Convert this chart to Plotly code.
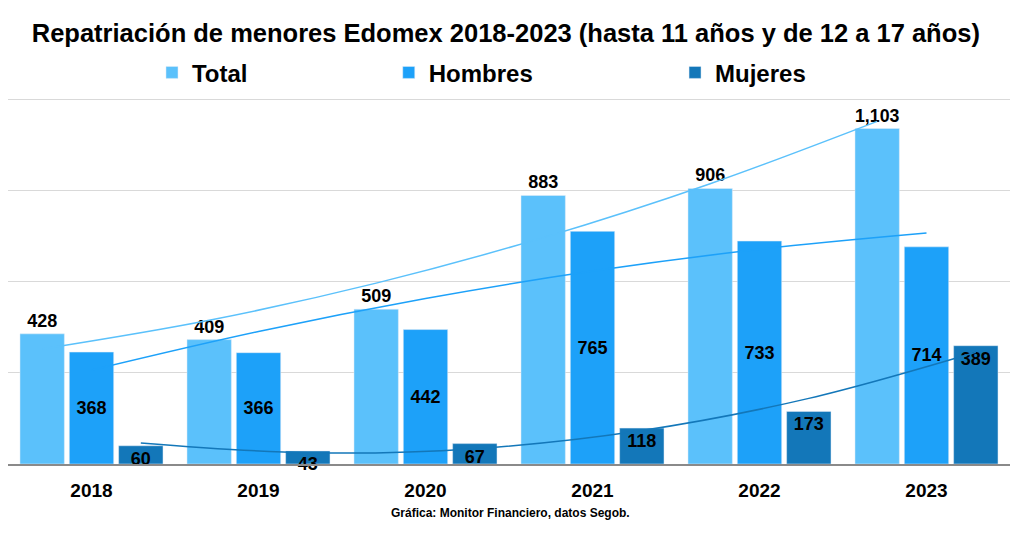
import numpy as np
import plotly.graph_objects as go

years = ["2018", "2019", "2020", "2021", "2022", "2023"]
total = [428, 409, 509, 883, 906, 1103]
hombres = [368, 366, 442, 765, 733, 714]
mujeres = [60, 43, 67, 118, 173, 389]

c_total = "#5BC1FB"
c_hom = "#1DA1F9"
c_muj = "#1377B9"

xs = np.arange(len(years))
bargap = 0.114
slot = (1 - bargap) / 3
FONT = "Liberation Sans, Arial"

fig = go.Figure()
lbl_font = dict(family=FONT, size=18, color="black", weight="bold")

fig.add_trace(go.Bar(x=xs, y=total, name="Total", marker_color=c_total,
                     texttemplate="%{y:,}", textposition="outside",
                     textfont=lbl_font, cliponaxis=False, legend="legend"))
fig.add_trace(go.Bar(x=xs, y=hombres, name="Hombres", marker_color=c_hom,
                     texttemplate="%{y:,}", textposition="inside",
                     insidetextanchor="middle", textfont=lbl_font,
                     constraintext="none", legend="legend2"))
fig.add_trace(go.Bar(x=xs, y=mujeres, name="Mujeres", marker_color=c_muj,
                     texttemplate="%{y:,}", textposition="inside",
                     insidetextanchor="end", textfont=lbl_font,
                     constraintext="none", cliponaxis=False, legend="legend3"))

# polynomial (degree 2) trendlines, as in the original chart
for vals, col, k in [(total, c_total, -1), (hombres, c_hom, 0), (mujeres, c_muj, 1)]:
    coef = np.polyfit(xs, vals, 2)
    fig.add_trace(go.Scatter(x=xs + k * slot, y=np.polyval(coef, xs),
                             mode="lines", line=dict(color=col, width=1.5, shape="spline"),
                             showlegend=False, hoverinfo="skip", cliponaxis=False))

leg_common = dict(orientation="h", yanchor="middle", y=1.063, xanchor="left",
                  font=dict(family=FONT, size=24, color="black", weight="bold"),
                  bgcolor="rgba(0,0,0,0)")

fig.update_layout(
    width=1024, height=538,
    margin=dict(l=8, r=14, t=96, b=74),
    paper_bgcolor="white", plot_bgcolor="white",
    barmode="group", bargap=bargap, bargroupgap=0.1,
    title=dict(text="Repatriación de menores Edomex 2018-2023 (hasta 11 años y de 12 a 17 años)",
               x=0.494, xanchor="center", y=0.939, yanchor="middle",
               font=dict(family=FONT, size=25.5, color="black", weight="bold")),
    legend=dict(**leg_common, x=0.1437),
    legend2=dict(**leg_common, x=0.380),
    legend3=dict(**leg_common, x=0.6657),
    xaxis=dict(tickmode="array", tickvals=list(xs), ticktext=years,
               range=[-0.5, 5.5], showgrid=False, showline=True, linecolor="#8a8a8a",
               linewidth=1.5, ticks="", ticklabelstandoff=8,
               tickfont=dict(family=FONT, size=19, color="black", weight="bold")),
    yaxis=dict(range=[0, 1210], tickvals=[0, 300, 600, 900, 1200], showgrid=True,
               gridcolor="#d9d9d9", gridwidth=1, showticklabels=False, zeroline=False),
    annotations=[dict(text="Gráfica: Monitor Financiero, datos Segob.",
                      xref="paper", yref="paper", x=0.501, y=-0.132,
                      xanchor="center", yanchor="middle", showarrow=False,
                      font=dict(family=FONT, size=12, color="black", weight="bold"))],
)

fig.write_html("out.html", config={"displayModeBar": False},
               post_script="document.body.style.margin='0px';document.body.style.padding='0px';")
